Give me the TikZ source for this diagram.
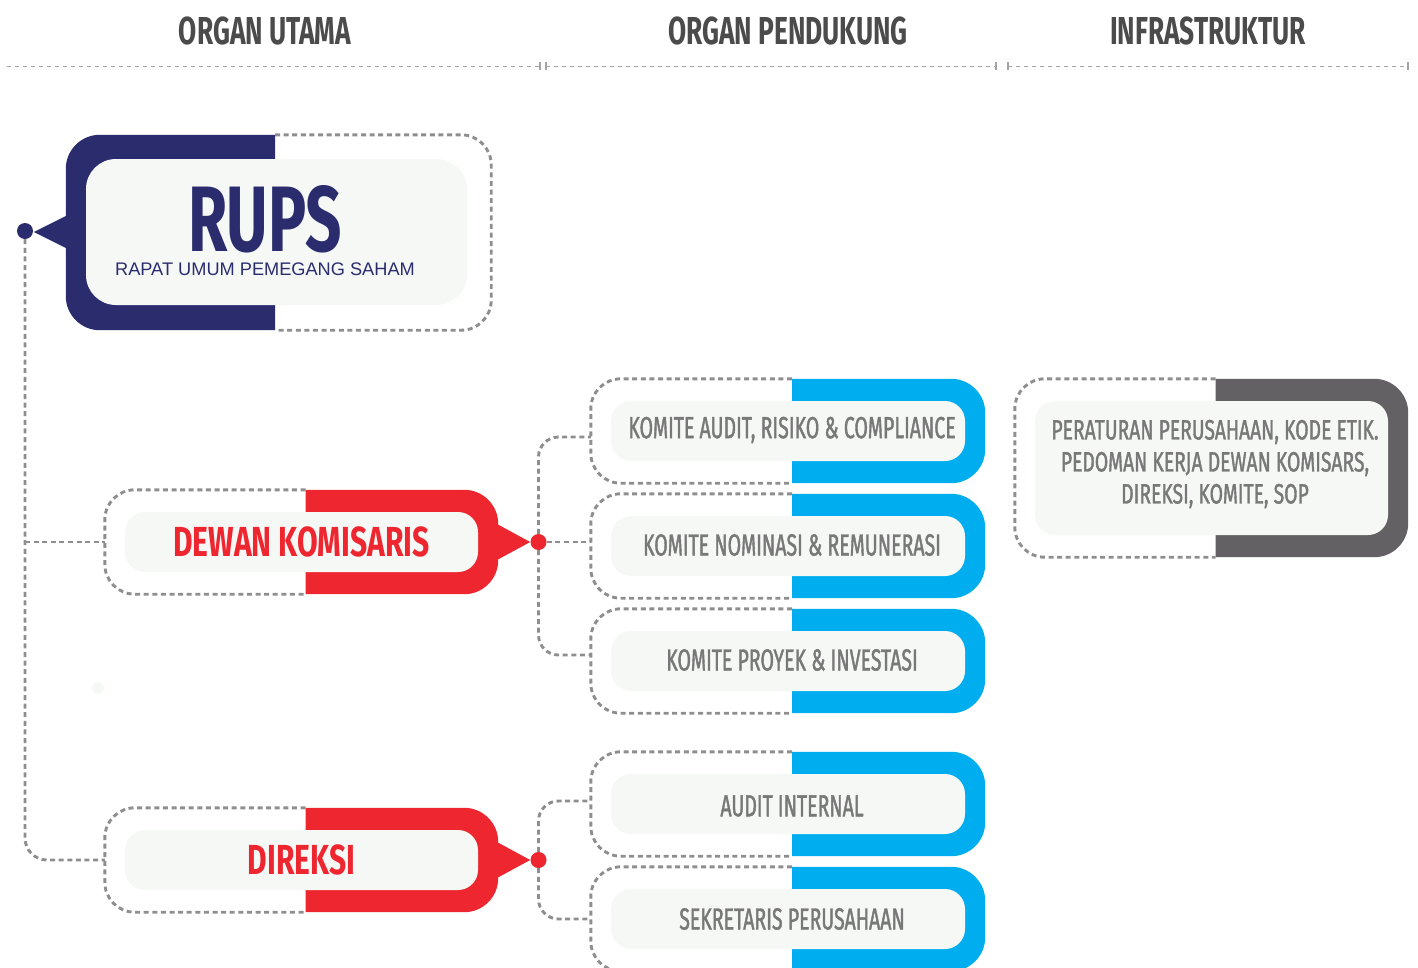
\documentclass[tikz,border=0pt]{standalone}
\usepackage{fontspec}
\setmainfont{Liberation Sans}
\newfontfamily\headfont{Fira Sans}[FakeStretch=0.675]
\newfontfamily\rupsfont{Fira Sans}[FakeStretch=0.685]
\newfontfamily\redfont{Fira Sans}[FakeStretch=0.715]
\newfontfamily\kfont{Fira Sans}[FakeStretch=0.64, FakeBold=1.3]
\newfontfamily\inffont{Fira Sans}[FakeStretch=0.69, FakeBold=1.3]
\usetikzlibrary{calc}
\pgfdeclarelayer{bg}
\pgfsetlayers{bg,main}
\definecolor{rupsblue}{HTML}{2B2C6E}
\definecolor{dkred}{HTML}{EE2630}
\definecolor{kblue}{HTML}{00AEEF}
\definecolor{infgray}{HTML}{636164}
\definecolor{panelfill}{HTML}{F6F8F6}
\definecolor{dashgray}{HTML}{8E8E8E}
\definecolor{txtgray}{HTML}{787878}
\definecolor{headgray}{HTML}{4B4B4B}
\definecolor{hlinegray}{HTML}{A3A3A3}
\newcommand\rframe[2]{%
  \path (#1.north west) ++(-20pt,22pt) coordinate (#1-tl);
  \path (#1.south east) ++(20pt,-22pt) coordinate (#1-br);
  \path (#1.center) ++(4pt,0pt) coordinate (#1-sp);
  \coordinate (#1-l) at (#1-tl |- #1.center);
  \coordinate (#1-r) at (#1-br |- #1.center);
  \begin{pgfonlayer}{bg}
    \fill[#2, rounded corners=34pt] (#1-sp |- #1-tl) -- (#1-br |- #1-tl) -- (#1-br) -- (#1-sp |- #1-br);
    \draw[boxdash, rounded corners=30pt] (#1-sp |- #1-tl) -- (#1-tl) -- (#1-tl |- #1-br) -- (#1-sp |- #1-br);
  \end{pgfonlayer}}
\begin{document}
\begin{tikzpicture}[x=1pt,y=-1pt,
  panelbox/.style={fill=panelfill, rounded corners=20pt, inner sep=0pt, draw=none},
  boxdash/.style={draw=dashgray, line width=2.9pt, dash pattern=on 5pt off 3.6pt},
  conn/.style={draw=dashgray, line width=2.9pt, dash pattern=on 5pt off 3.6pt},
  hline/.style={draw=hlinegray, line width=1pt, dash pattern=on 4pt off 4pt},
  tick/.style={draw=hlinegray, line width=1.3pt},
  headtxt/.style={font=\headfont\bfseries\fontsize{39}{39}\selectfont, text=headgray, inner sep=0pt},
  redtxt/.style={font=\redfont\bfseries\fontsize{42}{42}\selectfont, text=dkred, inner sep=0pt},
  ktxt/.style={font=\kfont\fontsize{30.5}{32}\selectfont, text=txtgray, inner sep=0pt},
  inftxt/.style={font=\inffont\fontsize{28}{32}\selectfont, text=txtgray, inner sep=0pt, align=center},
  dotnode/.style={circle, fill=#1, minimum size=16pt, inner sep=0pt},
  kbox/.style={panelbox, minimum width=354pt, minimum height=60pt}
]
\useasboundingbox (0,0) rectangle (1418,967);

% ---------- headers ----------
\node[headtxt] (h1) at (265,31) {ORGAN UTAMA};
\node[headtxt] (h2) at (788,31) {ORGAN PENDUKUNG};
\node[headtxt] (h3) at (1208,31) {INFRASTRUKTUR};
\draw[hline] (7,66) -- (540,66);
\draw[hline] (546,66) -- (996,66);
\draw[hline] (1008,66) -- (1408,66);
\foreach \tx in {540,546,996,1008,1408}{\draw[tick] (\tx,62) -- (\tx,70);}

% ---------- RUPS ----------
\node[panelbox, rounded corners=30pt, minimum width=381pt, minimum height=146pt] (rups) at (276.5,232) {};
\path (rups.north west) ++(-20pt,24pt) coordinate (rups-tl);
\path (rups.south east) ++(24pt,-25pt) coordinate (rups-br);
\coordinate (rups-sp) at (275,232);
\begin{pgfonlayer}{bg}
  \fill[rupsblue, rounded corners=34pt] (rups-sp |- rups-tl) -- (rups-tl) -- (rups-tl |- rups-br) -- (rups-sp |- rups-br);
  \draw[boxdash, rounded corners=30pt] (rups-sp |- rups-tl) -- (rups-br |- rups-tl) -- (rups-br) -- (rups-sp |- rups-br);
\end{pgfonlayer}
\coordinate (rups-l) at (rups-tl |- rups.center);
\fill[rupsblue] ([xshift=4pt,yshift=18pt]rups-l) -- ([xshift=-32pt]rups-l) -- ([xshift=4pt,yshift=-18pt]rups-l) -- cycle;
\node[dotnode=rupsblue] (rupsdot) at (25,231) {};
\node[font=\rupsfont\bfseries\fontsize{93}{93}\selectfont, text=rupsblue, inner sep=0pt, text height=64pt, text depth=0pt] (rupst) at (265,219) {RUPS};
\node[font=\fontsize{18.2}{20}\selectfont, text=rupsblue, inner sep=0pt, text height=13pt, text depth=0pt] (rupss) at (265,269) {RAPAT UMUM PEMEGANG SAHAM};

% ---------- Dewan Komisaris ----------
\node[panelbox, minimum width=353pt, minimum height=60pt] (dk) at (301.5,542) {};
\rframe{dk}{dkred}
\fill[dkred] ([xshift=-4pt,yshift=19.5pt]dk-r) -- ([xshift=32pt]dk-r) -- ([xshift=-4pt,yshift=-19.5pt]dk-r) -- cycle;
\node[dotnode=dkred] (dkdot) at (538.5,542) {};
\node[redtxt] (dkt) at (301.5,542) {DEWAN KOMISARIS};

% ---------- Direksi ----------
\node[panelbox, minimum width=353pt, minimum height=60pt] (dir) at (301.5,860) {};
\rframe{dir}{dkred}
\fill[dkred] ([xshift=-4pt,yshift=19.5pt]dir-r) -- ([xshift=32pt]dir-r) -- ([xshift=-4pt,yshift=-19.5pt]dir-r) -- cycle;
\node[dotnode=dkred] (dirdot) at (538.5,860) {};
\node[redtxt] (dirt) at (301.5,860) {DIREKSI};

% ---------- Komite ----------
\node[kbox] (k1) at (788,431) {};
\rframe{k1}{kblue}
\node[ktxt] at (792,430) {KOMITE AUDIT, RISIKO \& COMPLIANCE};
\node[kbox] (k2) at (788,546) {};
\rframe{k2}{kblue}
\node[ktxt] at (792,545) {KOMITE NOMINASI \& REMUNERASI};
\node[kbox] (k3) at (788,661) {};
\rframe{k3}{kblue}
\node[ktxt] at (792,660) {KOMITE PROYEK \& INVESTASI};
\node[kbox] (ai) at (788,804) {};
\rframe{ai}{kblue}
\node[ktxt] at (792,806) {AUDIT INTERNAL};
\node[kbox] (sk) at (788,919) {};
\rframe{sk}{kblue}
\node[ktxt] at (792,919) {SEKRETARIS PERUSAHAAN};

% ---------- Infrastruktur ----------
\node[panelbox, minimum width=353pt, minimum height=134pt] (inf) at (1211.5,468) {};
\rframe{inf}{infgray}
\node[inftxt] at (1215,464) {PERATURAN PERUSAHAAN, KODE ETIK.\\PEDOMAN KERJA DEWAN KOMISARS,\\DIREKSI, KOMITE, SOP};

% faint mark
\fill[panelfill] (98,688) circle (6pt);

% ---------- connectors ----------
\draw[conn, rounded corners=22pt] (rupsdot) |- (dir-l);
\draw[conn] (rupsdot |- dk-l) -- (dk-l);
\draw[conn, rounded corners=20pt] (dkdot) |- ([yshift=-6pt]k1-l);
\draw[conn] (dkdot) -- (k2-l |- dkdot);
\draw[conn, rounded corners=20pt] (dkdot) |- ([yshift=6pt]k3-l);
\draw[conn, rounded corners=20pt] (dirdot) |- ([yshift=3pt]ai-l);
\draw[conn, rounded corners=20pt] (dirdot) |- (sk-l);
\end{tikzpicture}
\end{document}
